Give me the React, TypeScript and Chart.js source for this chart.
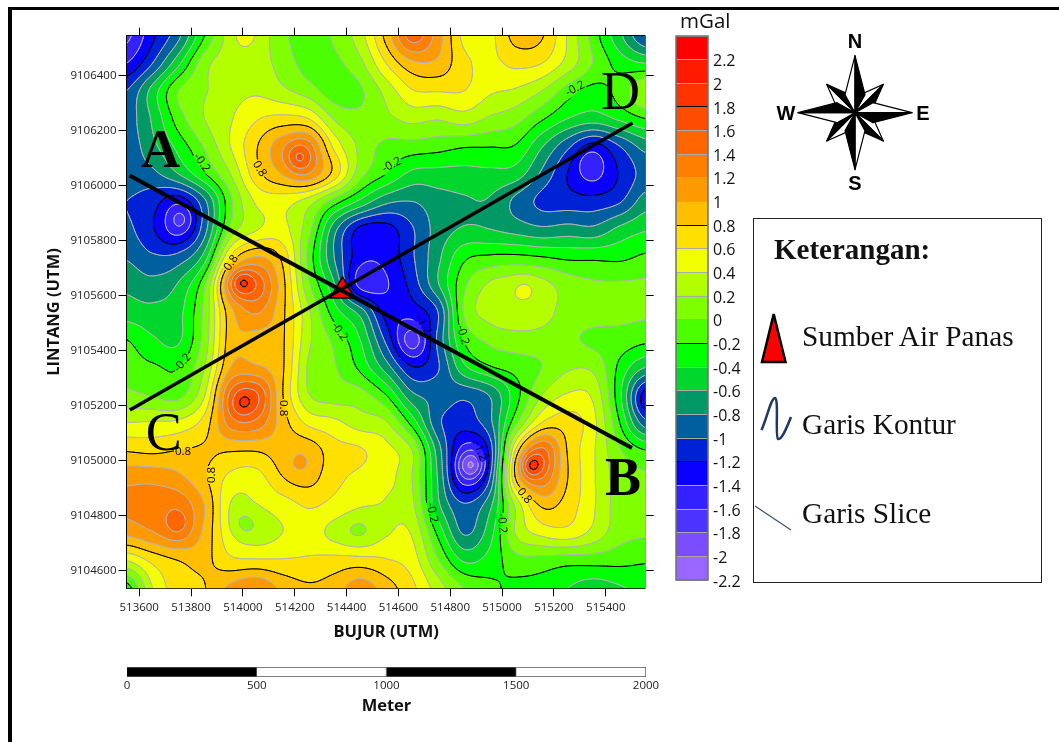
import React, { useEffect, useRef } from "react";
import { Chart, registerables } from "chart.js";

Chart.register(...registerables);

const X_MIN = 513551;
const X_MAX = 515554;
const Y_MIN = 9104536;
const Y_MAX = 9106545;

const xTickValues = [513600, 513800, 514000, 514200, 514400, 514600, 514800, 515000, 515200, 515400];
const yTickValues = [9104600, 9104800, 9105000, 9105200, 9105400, 9105600, 9105800, 9106000, 9106200, 9106400];

// Gravity anomaly (mGal): rows north to south, 21 columns west to east
const gridValues: number[][] = [
  [-1.65,-1.25,-.85,-.2,.28,.33,.05,-.1,.03,.32,.87,1.5,1.1,.55,.55,.87,.82,.38,-.1,-.55,-1.0],
  [-1.4,-1.0,-.45,.12,.3,.3,.12,-.08,-.05,.15,.6,.95,.95,.65,.55,.65,.6,.32,-.02,-.28,-.4],
  [-1.0,-.52,0,.18,.32,.37,.25,.1,-.1,-.03,.27,.58,.61,.6,.43,.37,.2,-.1,-.27,-.12,.2],
  [-.9,-.57,-.1,.2,.38,.58,.66,.6,.18,.05,.15,.26,.22,.3,.17,.07,-.17,-.4,-.5,-.36,-.2],
  [-.92,-.66,-.33,.02,.4,.78,1.13,1.25,.55,.15,-.05,-.08,-.12,-.18,-.19,-.22,-.58,-.95,-1.25,-1.0,-.72],
  [-.88,-.85,-.6,-.22,.2,.72,1.0,1.15,.72,.08,-.2,-.45,-.47,-.47,-.45,-.5,-.84,-1.2,-1.42,-1.18,-.92],
  [-1.0,-1.12,-1.3,-.85,-.05,.43,.48,.3,-.1,-.45,-.75,-.8,-.68,-.62,-.62,-.85,-1.05,-1.1,-1.12,-1.02,-.7],
  [-.95,-1.18,-1.42,-.88,.05,.38,.46,.08,-.72,-1.25,-1.28,-1.02,-.72,-.58,-.6,-.68,-.76,-.72,-.75,-.55,-.42],
  [-.82,-.97,-.93,-.52,.62,1.0,.75,-.05,-.8,-1.32,-1.33,-1.03,-.65,-.25,-.17,-.16,-.2,-.25,-.25,-.25,-.17],
  [-.65,-.73,-.58,-.05,1.2,1.5,.88,.05,-.58,-1.48,-1.42,-1.12,-.62,-.05,.23,.3,.26,.1,.03,.02,.03],
  [-.5,-.54,-.46,.05,.93,1.22,.85,.25,-.3,-.68,-1.28,-1.3,-1.0,.02,.27,.33,.28,.12,.09,.05,.03],
  [-.2,-.37,-.43,.08,.9,.93,.83,.25,-.05,-.4,-1.05,-1.6,-.95,-.18,.05,.12,.12,.05,-.05,-.08,-.15],
  [-.1,-.17,-.2,.2,1.0,1.03,.83,.18,.02,-.25,-.7,-1.18,-1.02,-.45,-.22,-.12,0,.17,.15,-.25,-.6],
  [.05,-.02,-.07,.38,1.4,1.6,.82,.22,.1,.08,-.2,-.75,-.87,-.95,-.78,-.28,.2,.42,.35,-.35,-1.25],
  [.4,.42,.45,.68,1.28,1.33,.9,.55,.45,.3,.22,-.28,-.95,-1.1,-.85,-.05,.6,.7,.45,-.2,-.92],
  [.78,.75,.8,.83,.82,.82,.9,.92,.68,.62,.46,.2,-.7,-1.42,-1.1,.6,1.4,.78,.42,.02,-.2],
  [1.14,1.14,1.05,.83,.55,.52,.78,.87,.66,.55,.46,.2,-.62,-1.45,-.98,.78,1.3,.8,.42,.1,.03],
  [1.25,1.3,1.32,1.0,.4,.4,.5,.62,.54,.42,.38,.25,-.55,-.97,-.65,.25,.83,.7,.42,.1,.03],
  [1.05,1.18,1.28,.95,.45,.3,.4,.5,.33,.2,.38,.38,-.25,-.82,-.48,.22,.46,.52,.33,.08,.02],
  [.4,.65,.8,.85,.65,.63,.62,.63,.67,.68,.62,.5,.02,-.42,-.32,-.08,-.08,-.12,-.12,-.14,-.18],
  [-.3,.4,.7,.79,1.05,1.2,.95,.83,.9,1.12,.9,.65,.3,0,-.15,-.25,-.28,-.4,-.5,-.42,-.35],
];

// Spot extremes: [easting, northing, mGal]
const spotValues: number[][] = [
  [514215, 9106101, 1.63], [513764, 9105878, -1.65], [513995, 9105650, 1.81],
  [513997, 9105206, 1.83], [513752, 9104773, 1.5], [514481, 9105682, -1.52],
  [514658, 9105432, -1.7], [514880, 9104985, -2.03], [515112, 9104982, 1.84],
  [515336, 9106082, -1.55], [515550, 9105210, -1.3], [515086, 9105630, 0.43],
  [514214, 9104985, 1.03], [514007, 9104773, 0.15], [514438, 9104760, 0.18],
  [514007, 9106545, 0.47],
];

const bandLower = [-2.2,-2,-1.8,-1.6,-1.4,-1.2,-1,-.8,-.6,-.4,-.2,0,.2,.4,.6,.8,1,1.2,1.4,1.6,1.8,2,2.2];
const bandColors = ["#9966ff","#7a4dff","#4d33ff","#3322ff","#0a00ff","#0022d6","#005f9e","#009966","#00d62c","#00ff00","#4cff00","#80ff00","#b3ff00","#f2ff00","#ffe000","#ffbf00","#ff9900","#ff7f00","#ff6600","#ff4d00","#ff3300","#ff1a00","#ff0000"];
const blackLevels = [-1.2, -0.2, 0.8, 1.8];

const sliceAB = [{ x: 513563, y: 9106037 }, { x: 515501, y: 9105046 }];
const sliceCD = [{ x: 513564, y: 9105184 }, { x: 515503, y: 9106228 }];
const hotSpring = [{ x: 514384, y: 9105617 }];

const sliceLetters: [string, number, number, boolean][] = [
  ["A", 513682, 9106118, true],
  ["B", 515466, 9104925, true],
  ["C", 513695, 9105090, false],
  ["D", 515457, 9106330, false],
];

// Contour labels: [text, easting, northing, rotation in degrees]
const contourLabels: [string, number, number, number][] = [
  ["-0.2", 513841, 9106083, 55], ["0.8", 514064, 9106061, 60], ["0.8", 513955, 9105719, -55],
  ["-0.2", 514574, 9106075, -28], ["-0.2", 515282, 9106352, -28], ["-0.2", 513767, 9105356, -50],
  ["0.8", 514154, 9105191, 90], ["0.8", 513769, 9105033, 0], ["0.8", 513878, 9104948, -90],
  ["-0.2", 514373, 9105469, 55], ["-1.2", 514696, 9105493, 60], ["-1.2", 514915, 9105035, 70],
  ["-0.2", 514848, 9105457, 75], ["-0.2", 514730, 9104811, 78], ["-0.2", 515000, 9104772, 85],
  ["0.8", 515086, 9104872, 50],
];

const scaleSegments = [500, 500, 500, 500];
const scaleColors = ["#000000", "#ffffff", "#000000", "#ffffff"];

const SANS = "'Open Sans', 'Noto Sans', sans-serif";
const SERIF = "'Liberation Serif', serif";

const cubic = (p0: number, p1: number, p2: number, p3: number, t: number) =>
  p1 + 0.5 * t * (p2 - p0 + t * (2 * p0 - 5 * p1 + 4 * p2 - p3 + t * (3 * (p1 - p2) + p3 - p0)));

function gridAt(x: number, y: number) {
  const rows = gridValues.length, cols = gridValues[0].length;
  const fx = ((x - X_MIN) / (X_MAX - X_MIN)) * (cols - 1);
  const fy = ((Y_MAX - y) / (Y_MAX - Y_MIN)) * (rows - 1);
  const ix = Math.max(0, Math.min(cols - 2, Math.floor(fx)));
  const iy = Math.max(0, Math.min(rows - 2, Math.floor(fy)));
  const tx = fx - ix, ty = fy - iy;
  const r: number[] = [];
  for (let j = -1; j <= 2; j++) {
    const row = gridValues[Math.max(0, Math.min(rows - 1, iy + j))];
    const c = (k: number) => row[Math.max(0, Math.min(cols - 1, ix + k))];
    r.push(cubic(c(-1), c(0), c(1), c(2), tx));
  }
  return cubic(r[0], r[1], r[2], r[3], ty);
}

const SPOT_SIGMA = 34;
const spotDelta = spotValues.map(([x, y, v]) => v - gridAt(x, y));

function fieldAt(x: number, y: number) {
  let v = gridAt(x, y);
  for (let k = 0; k < spotValues.length; k++) {
    const dx = x - spotValues[k][0], dy = y - spotValues[k][1];
    const d2 = dx * dx + dy * dy;
    if (d2 < 40000) v += spotDelta[k] * Math.exp(-d2 / (2 * SPOT_SIGMA * SPOT_SIGMA));
  }
  return v;
}

function hexRgb(h: string) {
  return [parseInt(h.slice(1, 3), 16), parseInt(h.slice(3, 5), 16), parseInt(h.slice(5, 7), 16)];
}

const contourMapPlugin = {
  id: "contourMap",
  beforeDatasetsDraw(chart: any) {
    const { ctx, chartArea: a, scales } = chart;
    const xs = scales.x, ys = scales.y;
    const w = Math.ceil(a.right - a.left), h = Math.ceil(a.bottom - a.top);
    const field = new Float32Array(w * h);
    for (let j = 0; j < h; j++) {
      const yv = ys.getValueForPixel(a.top + j + 0.5);
      for (let i = 0; i < w; i++) field[j * w + i] = fieldAt(xs.getValueForPixel(a.left + i + 0.5), yv);
    }
    const rgb = bandColors.map(hexRgb);
    const off = document.createElement("canvas");
    off.width = w; off.height = h;
    const oc = off.getContext("2d")!;
    const img = oc.createImageData(w, h);
    for (let p = 0; p < w * h; p++) {
      let b = Math.floor((field[p] - bandLower[0]) / 0.2);
      b = Math.max(0, Math.min(bandColors.length - 1, b));
      img.data[p * 4] = rgb[b][0]; img.data[p * 4 + 1] = rgb[b][1]; img.data[p * 4 + 2] = rgb[b][2]; img.data[p * 4 + 3] = 255;
    }
    oc.putImageData(img, 0, 0);
    ctx.save();
    ctx.beginPath();
    ctx.rect(a.left, a.top, a.right - a.left, a.bottom - a.top);
    ctx.clip();
    ctx.drawImage(off, a.left, a.top);

    ctx.font = `11.5px ${SANS}`;
    const gaps = contourLabels.map(([t, x, y, rot]) => ({ t, px: xs.getPixelForValue(x), py: ys.getPixelForValue(y), rot: (rot * Math.PI) / 180, tw: ctx.measureText(t).width }));
    ctx.save();
    const clip = new Path2D();
    clip.rect(a.left, a.top, a.right - a.left, a.bottom - a.top);
    gaps.forEach((g) => {
      const m = new DOMMatrix().translate(g.px, g.py).rotate((g.rot * 180) / Math.PI);
      const r = new Path2D();
      r.rect(-g.tw / 2 - 1, -6, g.tw + 2, 12);
      clip.addPath(r, m);
    });
    ctx.clip(clip, "evenodd");

    const s = 2;
    const cw = Math.floor((w - 1) / s), ch = Math.floor((h - 1) / s);
    const val = (i: number, j: number) => field[j * s * w + i * s];
    const levels = bandLower.slice(1);
    ctx.lineJoin = "round";
    ctx.lineCap = "round";
    levels.forEach((lv) => {
      const isBlack = blackLevels.some((b) => Math.abs(b - lv) < 1e-6);
      ctx.beginPath();
      for (let j = 0; j < ch; j++) {
        for (let i = 0; i < cw; i++) {
          const v0 = val(i, j), v1 = val(i + 1, j), v2 = val(i + 1, j + 1), v3 = val(i, j + 1);
          const idx = (v0 >= lv ? 1 : 0) | (v1 >= lv ? 2 : 0) | (v2 >= lv ? 4 : 0) | (v3 >= lv ? 8 : 0);
          if (idx === 0 || idx === 15) continue;
          const X = a.left + i * s + 0.5, Y = a.top + j * s + 0.5;
          const T = [X + (s * (lv - v0)) / (v1 - v0), Y];
          const R = [X + s, Y + (s * (lv - v1)) / (v2 - v1)];
          const B = [X + (s * (lv - v3)) / (v2 - v3), Y + s];
          const L = [X, Y + (s * (lv - v0)) / (v3 - v0)];
          const seg = (p: number[], q: number[]) => { ctx.moveTo(p[0], p[1]); ctx.lineTo(q[0], q[1]); };
          switch (idx) {
            case 1: case 14: seg(L, T); break;
            case 2: case 13: seg(T, R); break;
            case 3: case 12: seg(L, R); break;
            case 4: case 11: seg(R, B); break;
            case 6: case 9: seg(T, B); break;
            case 7: case 8: seg(L, B); break;
            case 5: seg(L, T); seg(R, B); break;
            case 10: seg(T, R); seg(L, B); break;
          }
        }
      }
      ctx.strokeStyle = isBlack ? "#000000" : "#b4b4b4";
      ctx.lineWidth = 1;
      ctx.stroke();
    });
    ctx.restore();

    ctx.fillStyle = "#000";
    ctx.textAlign = "center";
    ctx.textBaseline = "middle";
    gaps.forEach((g) => {
      ctx.save();
      ctx.translate(g.px, g.py);
      ctx.rotate(g.rot);
      ctx.fillText(g.t, 0, 0);
      ctx.restore();
    });
    ctx.restore();
  },
  afterDatasetsDraw(chart: any) {
    const { ctx, scales } = chart;
    ctx.save();
    ctx.fillStyle = "#000";
    ctx.textAlign = "center";
    ctx.textBaseline = "middle";
    sliceLetters.forEach(([t, x, y, bold]) => {
      ctx.font = `${bold ? "bold " : ""}54px ${SERIF}`;
      ctx.fillText(t, scales.x.getPixelForValue(x), scales.y.getPixelForValue(y));
    });
    ctx.restore();
  },
};

const frameBarPlugin = {
  id: "frameBar",
  afterDraw(chart: any) {
    const { ctx, chartArea: a } = chart;
    ctx.save();
    ctx.strokeStyle = "#707070";
    ctx.lineWidth = 1.5;
    ctx.strokeRect(a.left, a.top, a.right - a.left, a.bottom - a.top);
    ctx.restore();
  },
};

const tickFont = { family: SANS, size: 11.5 };
const titleFont = { family: SANS, size: 16.5, weight: "bold" as const };

function roseArms() {
  const cx = 855, cy = 112.7;
  const arms: React.ReactElement[] = [];
  for (let k = 0; k < 8; k++) {
    const main = k % 2 === 0;
    const len = main ? 57 : 40;
    const half = main ? 10 : 10;
    const base = main ? 18 : 14;
    const key = `arm-${k}`;
    const t = `rotate(${k * 45} ${cx} ${cy})`;
    arms.push(
      <g key={key} transform={t}>
        <polygon points={`${cx},${cy} ${cx},${cy - len} ${cx - half},${cy - base}`} fill="#fff" stroke="#000" strokeWidth="1.2" strokeLinejoin="round" />
        <polygon points={`${cx},${cy} ${cx},${cy - len} ${cx + half},${cy - base}`} fill="#000" stroke="#000" strokeWidth="1.2" strokeLinejoin="round" />
      </g>
    );
  }
  return [...arms.filter((_, i) => i % 2 === 1), ...arms.filter((_, i) => i % 2 === 0)];
}

const abs = (left: number, top: number, extra: React.CSSProperties = {}): React.CSSProperties => ({ position: "absolute", left, top, ...extra });

export default function App() {
  const mapRef = useRef<HTMLCanvasElement>(null);
  const barRef = useRef<HTMLCanvasElement>(null);
  const scaleRef = useRef<HTMLCanvasElement>(null);

  useEffect(() => {
    document.body.style.margin = "0";
    const axisTicks = { autoSkip: false, maxRotation: 0, font: tickFont, color: "#222", callback: (v: any) => String(v) };
    const gridOpts = { drawOnChartArea: false, drawTicks: true, tickLength: 8, color: "#000" };
    const setTicks = (vals: number[]) => (s: any) => { s.ticks = vals.map((value) => ({ value })); };
    const map = new Chart(mapRef.current!, {
      type: "scatter",
      data: {
        datasets: [
          { data: sliceAB, showLine: true, borderColor: "#000", borderWidth: 4, pointRadius: 0, order: 1 },
          { data: sliceCD, showLine: true, borderColor: "#000", borderWidth: 3.5, pointRadius: 0, order: 2 },
          { data: hotSpring, pointStyle: "triangle", pointRadius: 14, backgroundColor: "#ff0000", borderColor: "#000", borderWidth: 1.5, order: 3 },
        ],
      },
      options: {
        responsive: false,
        animation: false,
        events: [],
        layout: { padding: { left: 40, right: 405.3, top: 27.7, bottom: 95.6 } },
        plugins: { legend: { display: false }, tooltip: { enabled: false } },
        scales: {
          x: {
            type: "linear", position: "bottom", min: X_MIN, max: X_MAX,
            afterBuildTicks: setTicks(xTickValues),
            ticks: { ...axisTicks, padding: 5 }, grid: gridOpts, border: { color: "#000" },
            title: { display: true, text: "BUJUR (UTM)", font: titleFont, color: "#111" },
            afterFit: (s: any) => { s.height = 58.1; },
          },
          y: {
            type: "linear", position: "left", min: Y_MIN, max: Y_MAX,
            afterBuildTicks: setTicks(yTickValues),
            ticks: { ...axisTicks, padding: 2 }, grid: gridOpts, border: { color: "#000" },
            title: { display: true, text: "LINTANG (UTM)", font: titleFont, color: "#111" },
            afterFit: (s: any) => { s.width = 86.5; },
          },
          x2: {
            type: "linear", position: "top", min: X_MIN, max: X_MAX,
            afterBuildTicks: setTicks(xTickValues),
            ticks: { ...axisTicks, display: false }, grid: gridOpts, border: { color: "#000" },
            afterFit: (s: any) => { s.height = 8; },
          },
          y2: {
            type: "linear", position: "right", min: Y_MIN, max: Y_MAX,
            afterBuildTicks: setTicks(yTickValues),
            ticks: { ...axisTicks, display: false }, grid: gridOpts, border: { color: "#888" },
            afterFit: (s: any) => { s.width = 8; },
          },
        },
      } as any,
      plugins: [contourMapPlugin],
    });

    const bar = new Chart(barRef.current!, {
      type: "bar",
      data: {
        labels: ["mGal"],
        datasets: bandLower.map((lo, i) => ({
          data: [[lo, lo + 0.2]] as any,
          backgroundColor: bandColors[i],
          barPercentage: 1,
          categoryPercentage: 1,
          grouped: false,
        })),
      },
      options: {
        responsive: false,
        animation: false,
        events: [],
        layout: { padding: { left: 6, right: 0, top: 36, bottom: 20 } },
        plugins: { legend: { display: false }, tooltip: { enabled: false } },
        scales: {
          x: { display: false },
          y: {
            position: "right", min: -2.2, max: 2.4,
            ticks: {
              stepSize: 0.2, autoSkip: false, padding: 5, color: "#111", labelOffset: 2,
              font: { family: SANS, size: 16 },
              callback: (v: any) => (v > 2.3 ? "" : String(Number(Number(v).toFixed(1)))),
            },
            border: { display: false },
            grid: {
              z: 1, drawTicks: false,
              color: (c: any) => (blackLevels.some((b) => Math.abs(b - c.tick.value) < 1e-6) ? "#000" : "#aaaaaa"),
            },
            afterFit: (s: any) => { s.width = 52; },
          },
        },
      } as any,
      plugins: [frameBarPlugin],
    });

    const scale = new Chart(scaleRef.current!, {
      type: "bar",
      data: {
        labels: ["Meter"],
        datasets: scaleSegments.map((v, i) => ({
          data: [v],
          backgroundColor: scaleColors[i],
          borderColor: "#555",
          borderWidth: 1,
          barPercentage: 1,
          categoryPercentage: 1,
        })),
      },
      options: {
        indexAxis: "y",
        responsive: false,
        animation: false,
        events: [],
        layout: { padding: { left: 27, right: 34, top: 7, bottom: 0 } },
        plugins: { legend: { display: false }, tooltip: { enabled: false } },
        scales: {
          y: { display: false, stacked: true },
          x: {
            stacked: true, min: 0, max: 2000,
            ticks: { stepSize: 500, padding: 2, maxRotation: 0, font: tickFont, color: "#222", callback: (v: any) => String(v) },
            grid: { display: false, drawTicks: false },
            border: { display: false },
            title: { display: true, text: "Meter", font: titleFont, color: "#111" },
            afterFit: (s: any) => { s.height = 43; },
          },
        },
      } as any,
    });

    return () => { map.destroy(); bar.destroy(); scale.destroy(); };
  }, []);

  const legendText: React.CSSProperties = { fontFamily: SERIF, fontSize: 29.3, color: "#111", lineHeight: "34px", whiteSpace: "nowrap" };
  const roseText: React.CSSProperties = { fontFamily: "'Liberation Sans', sans-serif", fontWeight: 700, fontSize: 20, lineHeight: "20px", color: "#000", transform: "translate(-50%,-50%)" };

  return (
    <div style={{ position: "absolute", left: 0, top: 0, width: 1059, height: 742, overflow: "hidden", background: "#fff" }}>
      <div style={abs(7.5, 6.5, { width: 1052, height: 736, borderLeft: "4px solid #000", borderTop: "3.5px solid #000", boxSizing: "border-box" })} />
      <canvas ref={mapRef} width={1059} height={742} style={abs(0, 0, { width: 1059, height: 742 })} />
      <canvas ref={barRef} width={90} height={600} style={abs(670, 0, { width: 90, height: 600 })} />
      <canvas ref={scaleRef} width={580} height={60} style={abs(100, 660, { width: 580, height: 60 })} />
      <div style={abs(680, 7, { fontFamily: SANS, fontSize: 20.5, lineHeight: "26px", color: "#111" })}>mGal</div>

      <svg width={1059} height={742} style={abs(0, 0, { pointerEvents: "none" })}>
        {roseArms()}
        <polygon points="773.7,314 762,362 785.5,362" fill="#ff0000" stroke="#000" strokeWidth="2.5" />
        <path d="M761.5 430 C767 418 771 398 775 398 C779 398 775 437 778 439 C782 440 787 427 791 417" fill="none" stroke="#1f3864" strokeWidth="2.5" />
        <line x1="755" y1="506" x2="791" y2="530" stroke="#44546a" strokeWidth="1.2" />
      </svg>
      <div style={abs(855, 41, roseText)}>N</div>
      <div style={abs(855, 183, roseText)}>S</div>
      <div style={abs(786, 113, roseText)}>W</div>
      <div style={abs(923, 113, roseText)}>E</div>

      <div style={abs(753, 218, { width: 289, height: 365, border: "1.5px solid #222", boxSizing: "border-box" })} />
      <div style={abs(774, 233, { fontFamily: SERIF, fontWeight: 700, fontSize: 29, lineHeight: "32px", color: "#111", whiteSpace: "nowrap" })}>Keterangan:</div>
      <div style={abs(802, 319, legendText)}>Sumber Air Panas</div>
      <div style={abs(802, 407, legendText)}>Garis Kontur</div>
      <div style={abs(802, 496, legendText)}>Garis Slice</div>
    </div>
  );
}
